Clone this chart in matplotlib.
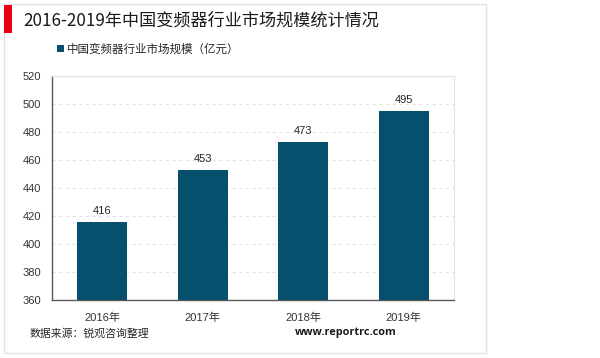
import matplotlib.pyplot as plt
from matplotlib.patches import Rectangle

plt.rcParams['font.family'] = ['Liberation Sans', 'Noto Sans CJK SC', 'DejaVu Sans']

years = ['2016年', '2017年', '2018年', '2019年']
values = [416, 453, 473, 495]
yticks = [360, 380, 400, 420, 440, 460, 480, 500, 520]
title = '2016-2019年中国变频器行业市场规模统计情况'
series_name = '中国变频器行业市场规模（亿元）'
source = '数据来源：锐观咨询整理'
site = 'www.reportrc.com'

bar_color = '#06506D'
W, H = 600, 358

fig = plt.figure(figsize=(6, 3.58), dpi=100)
fig.patch.set_facecolor('white')

# outer card
fig.patches.append(Rectangle((4 / W, 1 - 353 / H), 482 / W, 349 / H, transform=fig.transFigure,
                             facecolor='white', edgecolor='#e2e2e2', lw=1, zorder=-2))
# red marker beside title
fig.patches.append(Rectangle((4 / W, 1 - 33 / H), 8.5 / W, 28 / H, transform=fig.transFigure,
                             facecolor='#e60012', edgecolor='none', zorder=-1))
fig.text(23 / W, 1 - 21 / H, title, fontsize=12.3, family=['Noto Sans CJK SC', 'DejaVu Sans'],
         color='#1a1a1a', va='center', ha='left')

ax = fig.add_axes([52 / W, 1 - 300 / H, 402 / W, 224 / H])
ax.set_zorder(2)
x = range(len(years))
bars = ax.bar(x, values, width=0.5, color=bar_color, zorder=3, label=series_name)
for xi, v in zip(x, values):
    ax.text(xi, v + 4, str(v), ha='center', va='bottom', fontsize=8, color='#262626')

ax.set_xlim(-0.5, 3.5)
ax.set_ylim(360, 520)
ax.set_yticks(yticks)
ax.set_xticks(list(x))
ax.set_xticklabels(years)
ax.tick_params(axis='both', length=0, labelsize=8, colors='#333333')
ax.tick_params(axis='y', pad=8)
ax.tick_params(axis='x', pad=9)
ax.yaxis.grid(True, linestyle=(0, (3, 3)), color='#e3e3e3', lw=0.8, zorder=0)
ax.set_axisbelow(True)
for side in ['top', 'right']:
    ax.spines[side].set_color('#e3e3e3')
    ax.spines[side].set_linewidth(0.8)
for side in ['left', 'bottom']:
    ax.spines[side].set_color('#595959')
    ax.spines[side].set_linewidth(1.0)

leg = ax.legend(loc='lower left', bbox_to_anchor=(0.0, 1.07), frameon=False,
                handlelength=0.6, handleheight=0.6, handletextpad=0.3, borderaxespad=0,
                prop={'family': ['Noto Sans CJK SC', 'DejaVu Sans'], 'size': 8.3})
for t in leg.get_texts():
    t.set_color('#262626')

fig.text(30 / W, 1 - 333 / H, source, fontsize=7.8, family=['Noto Sans CJK SC', 'DejaVu Sans'],
         color='#262626', va='center', ha='left')
fig.text(397 / W, 1 - 333 / H, site, fontsize=7.8, family=['Open Sans', 'DejaVu Sans'],
         fontweight='bold', color='#1a1a1a', va='center', ha='right')

fig.savefig('out.png', dpi=100, facecolor='white')
